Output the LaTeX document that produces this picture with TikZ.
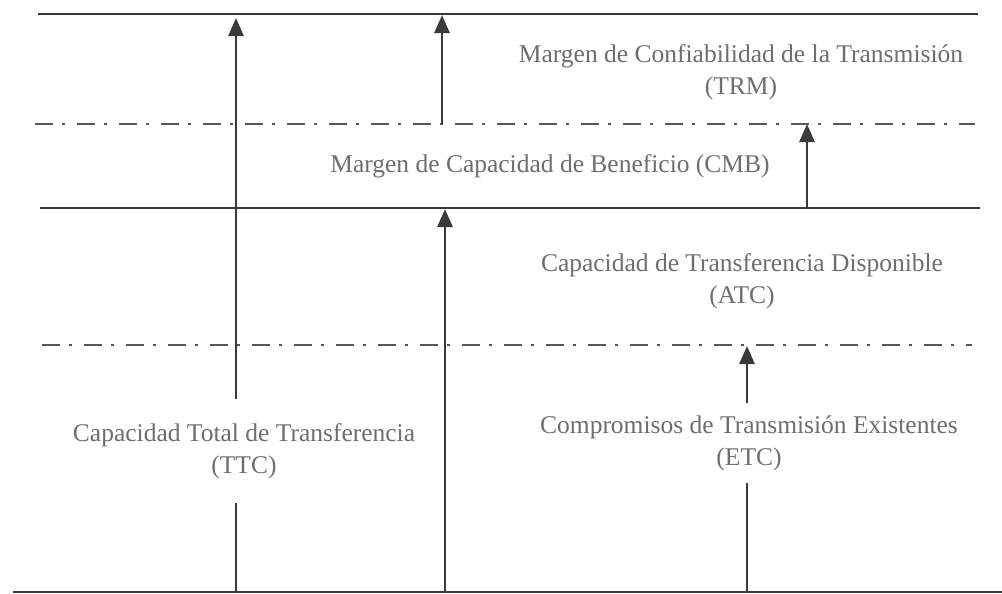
\documentclass[tikz,border=0pt]{standalone}
\usepackage{fontspec}
\setmainfont{Liberation Serif}
\usetikzlibrary{arrows.meta}
\definecolor{lineclr}{HTML}{3A3A3A}
\definecolor{txtclr}{HTML}{6E6E6E}
\tikzset{
  solidline/.style={draw=lineclr, line width=1pt},
  baseline/.style={draw=lineclr, line width=1.4pt},
  dashdotline/.style={draw=lineclr!85, line width=0.8pt, dash pattern=on 9pt off 4.5pt on 1.5pt off 6pt},
  shaft/.style={draw=lineclr, line width=1.4pt},
  arr/.style={shaft, -{Triangle[length=9pt,width=7.5pt]}},
  lbl/.style={text=txtclr, font=\fontsize{12.75}{16}\selectfont, align=center, inner xsep=2pt, inner ysep=2pt},
}
\begin{document}
\begin{tikzpicture}[x=0.5pt, y=-0.5pt]
\useasboundingbox (0,0) rectangle (1002,594);
\fill[white] (0,0) rectangle (1002,594);
% horizontal levels
\coordinate (l1a) at (38,14);   \coordinate (l1b) at (978,14);
\coordinate (l2a) at (35,124);  \coordinate (l2b) at (975,124);
\coordinate (l3a) at (40,208);  \coordinate (l3b) at (980,208);
\coordinate (l4a) at (42,345);  \coordinate (l4b) at (972,345);
\coordinate (l5a) at (13,592);  \coordinate (l5b) at (1002,592);
\path[solidline] (l1a) -- (l1b);
\path[dashdotline] (l2a) -- (l2b);
\path[solidline] (l3a) -- (l3b);
\path[dashdotline] (l4a) -- (l4b);
\path[baseline] (l5a) -- (l5b);
% labels
\node[lbl] (trm) at (741,72) {Margen de Confiabilidad de la Transmisión\\(TRM)};
\node[lbl] (cmb) at (550,166) {Margen de Capacidad de Beneficio (CMB)};
\node[lbl] (atc) at (742,281) {Capacidad de Transferencia Disponible\\(ATC)};
\node[lbl, inner ysep=6pt] (etc) at (749,443) {Compromisos de Transmisión Existentes\\(ETC)};
\node[lbl, inner ysep=12pt] (ttc) at (244,451) {Capacidad Total de Transferencia\\(TTC)};
% arrow end points
\coordinate (a1bot) at (236,592); \coordinate (a1top) at (236,18);
\coordinate (a2bot) at (442,124); \coordinate (a2top) at (442,15);
\coordinate (a3bot) at (445,592); \coordinate (a3top) at (445,209);
\coordinate (a4bot) at (807,208); \coordinate (a4top) at (807,124);
\coordinate (a5bot) at (747,592); \coordinate (a5top) at (747,346);
% arrows
\draw[shaft] (a1bot) -- (a1bot |- ttc.south);
\draw[arr] (a1top |- ttc.north) -- (a1top);
\draw[arr] (a2bot) -- (a2top);
\draw[arr] (a3bot) -- (a3top);
\draw[arr] (a4bot) -- (a4top);
\draw[shaft] (a5bot) -- (a5bot |- etc.south);
\draw[arr] (a5top |- etc.north) -- (a5top);
\end{tikzpicture}
\end{document}
